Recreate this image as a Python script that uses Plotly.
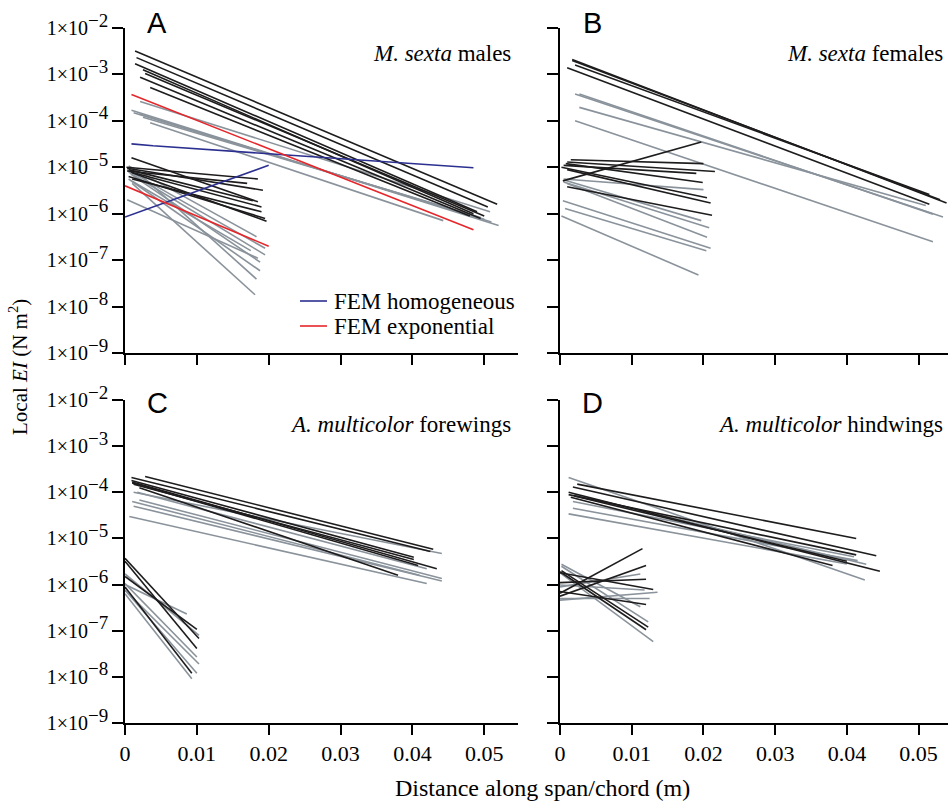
import plotly.graph_objects as go

# ---------------- Panel A: M. sexta males ----------------
A_black_x0 = [0.0014, 0.0016, 0.0014, 0.0028, 0.0021, 0.0035, 0.0025,
              0.0009, 0.0002, 0.0003, 0.0005, 0.0008, 0.0010, 0.0005, 0.0010, 0.0003]
A_black_x1 = [0.0518, 0.0505, 0.0490, 0.0500, 0.0495, 0.0480, 0.0485,
              0.0185, 0.0185, 0.0192, 0.0178, 0.0190, 0.0197, 0.0195, 0.0190, 0.0170]
A_black_ei0 = [3.2e-3, 2.3e-3, 1.7e-3, 1.05e-3, 8.7e-4, 5.2e-4, 1.26e-3,
               1.6e-5, 1.0e-5, 9.5e-6, 8.9e-6, 7.9e-6, 7.6e-6, 6.3e-6, 5.6e-6, 8.3e-6]
A_black_ei1 = [1.6e-6, 1.4e-6, 1.1e-6, 8.9e-7, 7.9e-7, 8.9e-7, 1.0e-6,
               1.8e-6, 5.6e-6, 3.2e-6, 1.9e-6, 1.4e-6, 6.9e-7, 7.9e-7, 1.1e-6, 4.5e-6]
A_gray_x0 = [0.0021, 0.0009, 0.0012, 0.0025, 0.0035, 0.0020,
             0.0005, 0.0003, 0.0005, 0.0008, 0.0005, 0.0010, 0.0010, 0.0003, 0.0010]
A_gray_x1 = [0.0508, 0.0520, 0.0500, 0.0495, 0.0443, 0.0510,
             0.0183, 0.0195, 0.0195, 0.0188, 0.0188, 0.0183, 0.0181, 0.0185, 0.0175]
A_gray_ei0 = [2.6e-4, 1.7e-4, 1.5e-4, 1.2e-4, 9.1e-5, 1.4e-4,
              1.07e-5, 8.9e-6, 7.9e-6, 7.1e-6, 5.6e-6, 1.0e-5, 4.5e-6, 2.0e-6, 5.0e-6]
A_gray_ei1 = [1.1e-6, 5.6e-7, 7.6e-7, 8.3e-7, 7.1e-7, 6.6e-7,
              3.2e-7, 1.8e-7, 1.3e-7, 9.1e-8, 5.9e-8, 3.9e-8, 1.8e-8, 1.1e-7, 1.6e-7]
# FEM models (panel A only)
FEM_hom_span_x = [0.0009, 0.0039, 0.0485]
FEM_hom_span_ei = [3.2e-5, 2.9e-5, 9.8e-6]
FEM_hom_chord_x = [0.0, 0.0200]
FEM_hom_chord_ei = [8.5e-7, 1.1e-5]
FEM_exp_span_x = [0.0009, 0.0485]
FEM_exp_span_ei = [3.7e-4, 4.5e-7]
FEM_exp_chord_x = [0.0, 0.0200]
FEM_exp_chord_ei = [4.0e-6, 2.0e-7]
legend_labels = ["FEM homogeneous", "FEM exponential"]

# ---------------- Panel B: M. sexta females ----------------
B_black_x0 = [0.0017, 0.0021, 0.0010, 0.0017,
              0.0004, 0.0015, 0.0010, 0.0005, 0.0008, 0.0002, 0.0010, 0.0010]
B_black_x1 = [0.0539, 0.0515, 0.0515, 0.0530,
              0.0197, 0.0200, 0.0216, 0.0190, 0.0199, 0.0205, 0.0210, 0.0212]
B_black_ei0 = [2.1e-3, 1.6e-3, 1.4e-3, 2.0e-3,
               5.1e-6, 1.45e-5, 1.3e-5, 1.1e-5, 1.2e-5, 1.0e-5, 8.9e-6, 3.8e-6]
B_black_ei1 = [1.7e-6, 2.6e-6, 1.6e-6, 2.0e-6,
               3.5e-5, 1.2e-5, 8.1e-6, 7.4e-6, 4.7e-6, 2.2e-6, 1.7e-6, 9.3e-7]
B_gray_x0 = [0.0021, 0.0027, 0.0027, 0.0021,
             0.0005, 0.0008, 0.0005, 0.0010, 0.0004, 0.0007, 0.0002]
B_gray_x1 = [0.0534, 0.0520, 0.0510, 0.0520,
             0.0200, 0.0197, 0.0208, 0.0205, 0.0210, 0.0204, 0.0193]
B_gray_ei0 = [3.8e-4, 3.8e-4, 1.95e-4, 1.0e-4,
              5.6e-6, 5.2e-6, 4.8e-6, 4.5e-6, 1.9e-6, 1.3e-6, 8.9e-7]
B_gray_ei1 = [8.5e-7, 9.8e-7, 1.5e-6, 2.5e-7,
              3.3e-6, 7.1e-7, 5.0e-7, 3.1e-7, 1.8e-7, 1.6e-7, 4.8e-8]

# ---------------- Panel C: A. multicolor forewings ----------------
C_black_x0 = [0.0028, 0.0009, 0.0009, 0.0010, 0.0010, 0.0012, 0.0020,
              0.0, 0.0, 0.0, 0.0]
C_black_x1 = [0.0429, 0.0425, 0.0402, 0.0434, 0.0408, 0.0402, 0.0380,
              0.0103, 0.0100, 0.0100, 0.0093]
C_black_ei0 = [2.2e-4, 2.1e-4, 1.8e-4, 1.66e-4, 1.6e-4, 1.5e-4, 1.26e-4,
               3.7e-6, 3.2e-6, 1.5e-6, 8.9e-7]
C_black_ei1 = [5.8e-6, 5.2e-6, 3.9e-6, 2.2e-6, 2.6e-6, 3.5e-6, 1.6e-6,
               6.8e-8, 4.1e-8, 1.07e-7, 1.2e-8]
C_gray_x0 = [0.0012, 0.0017, 0.0020, 0.0012, 0.0006, 0.0010,
             0.0, 0.0, 0.0, 0.0, 0.0, 0.0]
C_gray_x1 = [0.0441, 0.0420, 0.0441, 0.0441, 0.0420, 0.0410,
             0.0086, 0.0103, 0.0100, 0.0103, 0.0100, 0.0093]
C_gray_ei0 = [1.0e-4, 1.0e-4, 6.8e-5, 5.0e-5, 3.0e-5, 6.3e-5,
              1.0e-6, 1.7e-6, 1.05e-6, 7.6e-7, 7.6e-7, 6.3e-7]
C_gray_ei1 = [4.7e-6, 2.2e-6, 1.35e-6, 1.2e-6, 1.05e-6, 1.6e-6,
              2.3e-7, 7.9e-8, 2.7e-8, 1.9e-8, 1.2e-8, 9.1e-9]

# ---------------- Panel D: A. multicolor hindwings ----------------
D_black_x0 = [0.0024, 0.0018, 0.0012, 0.0012, 0.0015, 0.0020,
              0.0, 0.0, 0.0, 0.0, 0.0, 0.0002, 0.0]
D_black_x1 = [0.0413, 0.0441, 0.0446, 0.0413, 0.0380, 0.0400,
              0.0115, 0.0120, 0.0120, 0.0130, 0.0120, 0.0123, 0.0120]
D_black_ei0 = [1.5e-4, 1.3e-4, 1.0e-4, 8.9e-5, 7.8e-5, 8.3e-5,
               6.5e-7, 5.6e-7, 1.1e-6, 1.8e-6, 7.1e-7, 2.0e-6, 1.9e-6]
D_black_ei1 = [1.0e-5, 4.2e-6, 1.95e-6, 4.4e-6, 2.6e-6, 3.2e-6,
               6.0e-6, 2.6e-6, 1.3e-6, 7.8e-7, 3.7e-7, 1.2e-7, 1.05e-7]
D_gray_x0 = [0.0012, 0.0020, 0.0018, 0.0018, 0.0012,
             0.0, 0.0, 0.0002, 0.0002, 0.0, 0.0, 0.0]
D_gray_x1 = [0.0425, 0.0427, 0.0410, 0.0415, 0.0400,
             0.0112, 0.0136, 0.0112, 0.0123, 0.0130, 0.0125, 0.0118]
D_gray_ei0 = [2.1e-4, 8.9e-5, 6.3e-5, 4.5e-5, 3.4e-5,
              8.9e-7, 4.6e-7, 2.75e-6, 2.5e-6, 1.8e-6, 5.0e-7, 9.8e-7]
D_gray_ei1 = [1.26e-6, 2.75e-6, 4.0e-6, 3.3e-6, 2.8e-6,
              1.7e-6, 6.8e-7, 3.3e-7, 1.55e-7, 5.8e-8, 5.0e-7, 7.6e-7]

panel_titles = ["<i>M. sexta</i> males", "<i>M. sexta</i> females",
                "<i>A. multicolor</i> forewings", "<i>A. multicolor</i> hindwings"]
panel_letters = ["A", "B", "C", "D"]
y_tick_vals = [1e-2, 1e-3, 1e-4, 1e-5, 1e-6, 1e-7, 1e-8, 1e-9]
y_tick_exps = ["−2", "−3", "−4", "−5", "−6", "−7", "−8", "−9"]
x_tick_vals = [0, 0.01, 0.02, 0.03, 0.04, 0.05]
x_tick_text = ["0", "0.01", "0.02", "0.03", "0.04", "0.05"]

BLACK = "#1e1c1d"
GRAY = "#8a939b"
RED = "#e5262a"
BLUE = "#2b2f8f"
LW = 1.6


def segs(x0, x1, e0, e1):
    xs, ys = [], []
    for a, b, c, d in zip(x0, x1, e0, e1):
        xs += [a, b, None]
        ys += [c, d, None]
    return xs, ys


fig = go.Figure()
panel_data = [
    ("x", "y", (A_gray_x0, A_gray_x1, A_gray_ei0, A_gray_ei1), (A_black_x0, A_black_x1, A_black_ei0, A_black_ei1)),
    ("x2", "y2", (B_gray_x0, B_gray_x1, B_gray_ei0, B_gray_ei1), (B_black_x0, B_black_x1, B_black_ei0, B_black_ei1)),
    ("x3", "y3", (C_gray_x0, C_gray_x1, C_gray_ei0, C_gray_ei1), (C_black_x0, C_black_x1, C_black_ei0, C_black_ei1)),
    ("x4", "y4", (D_gray_x0, D_gray_x1, D_gray_ei0, D_gray_ei1), (D_black_x0, D_black_x1, D_black_ei0, D_black_ei1)),
]
for xa, ya, gray, black in panel_data:
    for grp, col in ((gray, GRAY), (black, BLACK)):
        xs, ys = segs(*grp)
        fig.add_trace(go.Scatter(x=xs, y=ys, mode="lines", xaxis=xa, yaxis=ya,
                                 line=dict(color=col, width=LW), showlegend=False,
                                 hoverinfo="skip", connectgaps=False))

for xs, ys, col in ((FEM_hom_span_x, FEM_hom_span_ei, BLUE), (FEM_hom_chord_x, FEM_hom_chord_ei, BLUE),
                    (FEM_exp_span_x, FEM_exp_span_ei, RED), (FEM_exp_chord_x, FEM_exp_chord_ei, RED)):
    fig.add_trace(go.Scatter(x=xs, y=ys, mode="lines", xaxis="x", yaxis="y",
                             line=dict(color=col, width=LW), showlegend=False, hoverinfo="skip"))

W, H = 948, 802
TF = "Liberation Serif"
tickfont = dict(family=TF, size=20, color="black")
y_tick_text = ["1×10<sup><span style='font-size:19px'>%s</span></sup>" % e for e in y_tick_exps]

xdom_left = [125 / W, 518 / W]
xdom_right = [560 / W, 1.0]
ydom_top = [1 - 353 / H, 1 - 28 / H]
ydom_bot = [1 - 723 / H, 1 - 400 / H]


def xax(dom, anchor, rng, labels):
    return dict(domain=dom, anchor=anchor, range=rng, showgrid=False, zeroline=False,
                showline=True, linecolor="black", linewidth=1.5, ticks="outside",
                ticklen=10, tickwidth=1.5, tickcolor="black", tickvals=x_tick_vals,
                ticktext=x_tick_text, showticklabels=labels,
                tickfont=dict(family=TF, size=22, color="black"), automargin=False)


def yax(dom, anchor, labels):
    return dict(domain=dom, anchor=anchor, type="log", range=[-9, -2], showgrid=False,
                zeroline=False, showline=True, linecolor="black", linewidth=1.5,
                ticks="outside", ticklen=11, tickwidth=1.5, tickcolor="black",
                tickvals=y_tick_vals, ticktext=y_tick_text, showticklabels=labels,
                tickfont=tickfont, automargin=False)


annotations = []
letter_pos = [(157, 23), (592, 23), (157, 403), (592, 403)]
title_pos = [(513, 53), (945, 53), (513, 424), (945, 424)]
for (lx, ly), (tx, ty), letter, title in zip(letter_pos, title_pos, panel_letters, panel_titles):
    annotations.append(dict(x=lx / W, y=1 - ly / H, xref="paper", yref="paper", text=letter,
                            showarrow=False, xanchor="center", yanchor="middle",
                            font=dict(family="Liberation Sans", size=29, color="black")))
    annotations.append(dict(x=tx / W, y=1 - ty / H, xref="paper", yref="paper", text=title,
                            showarrow=False, xanchor="right", yanchor="middle",
                            font=dict(family=TF, size=23, color="black")))
annotations.append(dict(x=18 / W, y=1 - 367 / H, xref="paper", yref="paper",
                        text="Local <i>EI</i> (N m<sup>2</sup>)", textangle=-90, showarrow=False,
                        xanchor="center", yanchor="middle", font=dict(family=TF, size=21, color="black")))
annotations.append(dict(x=542 / W, y=1 - 788 / H, xref="paper", yref="paper",
                        text="Distance along span/chord (m)", showarrow=False,
                        xanchor="center", yanchor="middle", font=dict(family=TF, size=24, color="black")))

# manual legend for the FEM model lines (panel A)
shapes = []
for i, (lab, col) in enumerate(zip(legend_labels, (BLUE, RED))):
    yy = 1 - (301 + 25 * i) / H
    shapes.append(dict(type="line", xref="paper", yref="paper", x0=300 / W, x1=327 / W,
                       y0=yy, y1=yy, line=dict(color=col, width=LW)))
    annotations.append(dict(x=332 / W, y=yy, xref="paper", yref="paper", text=lab,
                            showarrow=False, xanchor="left", yanchor="middle",
                            font=dict(family=TF, size=23, color="black")))

fig.update_layout(
    width=W, height=H, margin=dict(l=0, r=0, t=0, b=0, pad=0), autosize=False,
    paper_bgcolor="white", plot_bgcolor="white",
    xaxis=xax(xdom_left, "y", [0, 0.0547], False),
    yaxis=yax(ydom_top, "x", True),
    xaxis2=xax(xdom_right, "y2", [0, 0.0541], False),
    yaxis2=yax(ydom_top, "x2", False),
    xaxis3=xax(xdom_left, "y3", [0, 0.0547], True),
    yaxis3=yax(ydom_bot, "x3", True),
    xaxis4=xax(xdom_right, "y4", [0, 0.0541], True),
    yaxis4=yax(ydom_bot, "x4", False),
    showlegend=False,
    annotations=annotations,
    shapes=shapes,
)

fig.write_html("out.html", config={"displayModeBar": False},
               post_script="document.body.style.margin='0px';document.body.style.overflow='hidden';")
